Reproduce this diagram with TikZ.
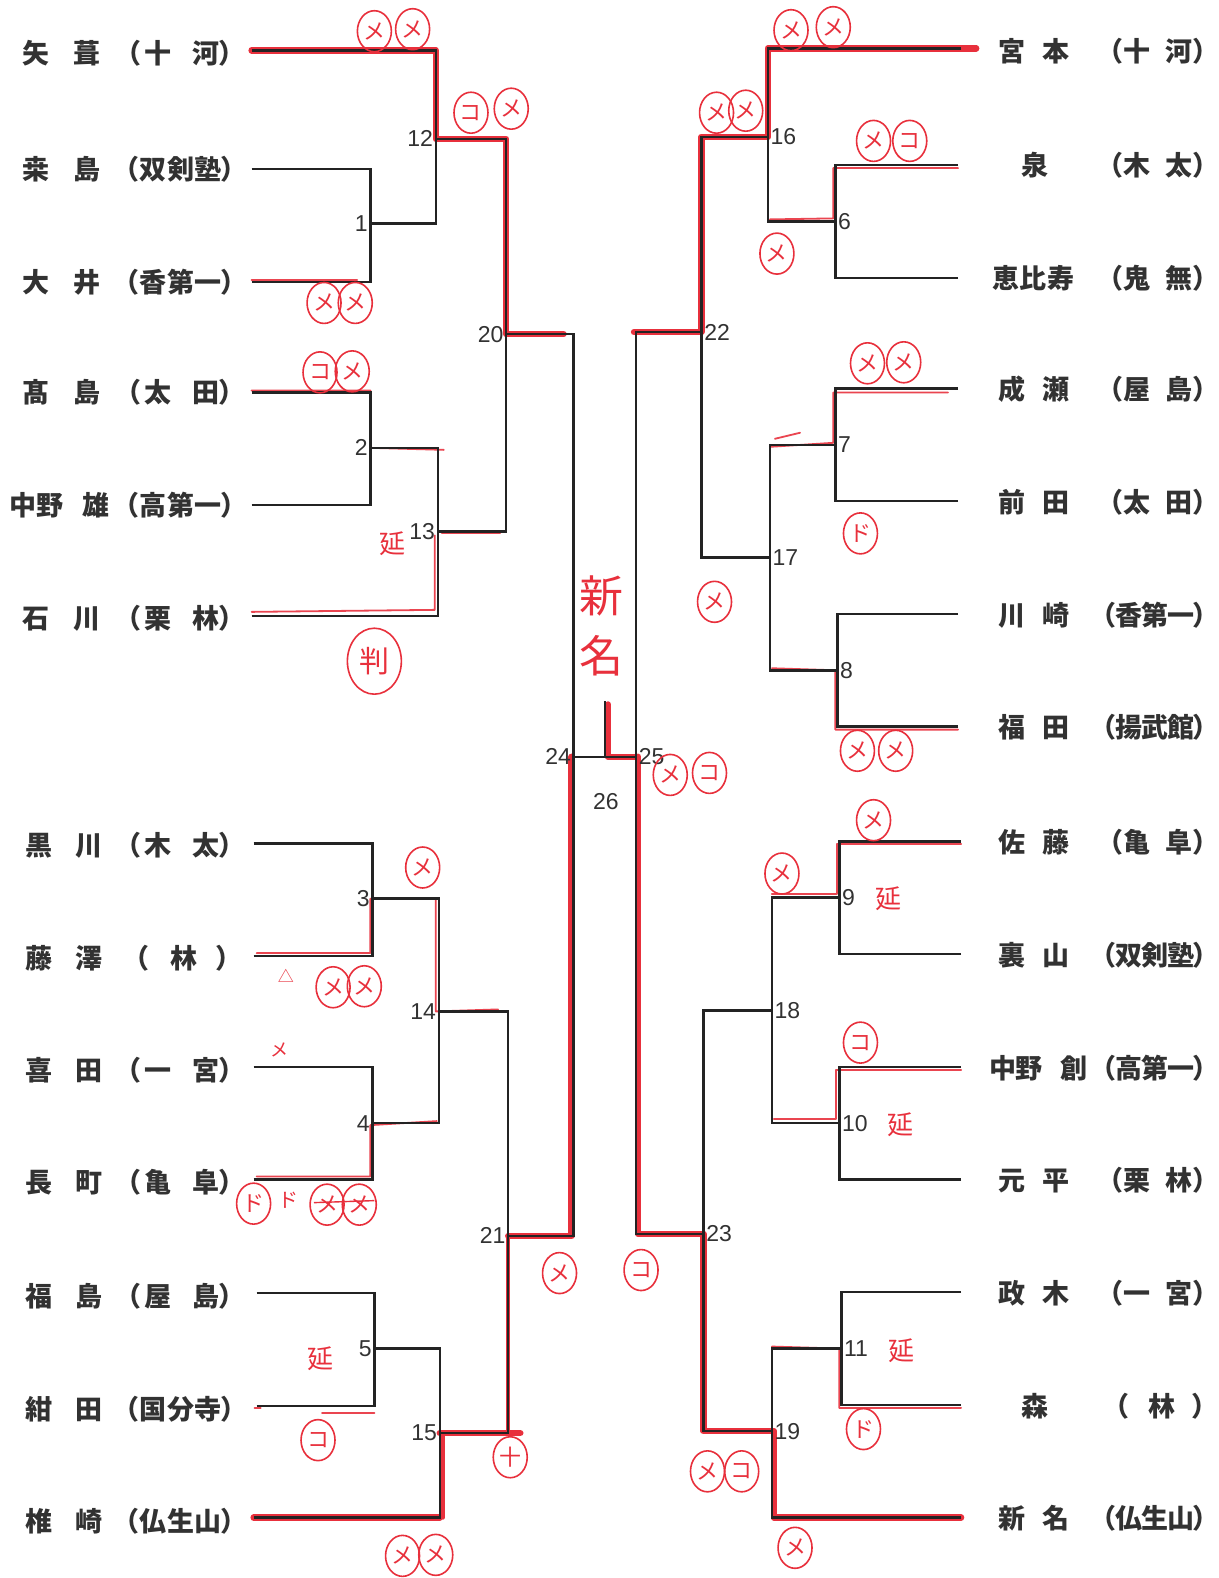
\documentclass[tikz,border=0pt]{standalone}
\usepackage{fontspec}
\usetikzlibrary{shapes.geometric,calc}
\newfontfamily\jp[RawFeature=+palt]{Noto Sans CJK JP}
\newfontfamily\hw{Noto Sans CJK JP}
\newfontfamily\numf{Liberation Sans}
\definecolor{mred}{RGB}{232,48,60}
\definecolor{lk}{RGB}{35,35,35}
\definecolor{txt}{RGB}{50,50,50}
\newdimen\px \px=0.5033pt
\newcommand\gl[2]{\rlap{\hskip#1\px\makebox[0pt][c]{#2}}}
\newcommand\Lnm[2]{\gl{34}{#1}\gl{85}{#2}}
\newcommand\Ltwo[2]{\gl{131}{（}\gl{156}{#1}\gl{203}{#2}\gl{224}{）}}
\newcommand\Lthree[3]{\gl{129}{（}\gl{151}{#1}\gl{178}{#2}\gl{205}{#3}\gl{226}{）}}
\newcommand\Lone[1]{\gl{139}{（}\gl{181}{#1}\gl{221}{）}}
\newcommand\Rnm[2]{\gl{1004}{#1}\gl{1048}{#2}}
\newcommand\Rtwo[2]{\gl{1107}{（}\gl{1128}{#1}\gl{1170}{#2}\gl{1191}{）}}
\newcommand\Rthree[3]{\gl{1100}{（}\gl{1120}{#1}\gl{1146}{#2}\gl{1172}{#3}\gl{1191}{）}}
\newcommand\Rone[1]{\gl{1113}{（}\gl{1153}{#1}\gl{1190}{）}}
\begin{document}
\begin{tikzpicture}[x=0.5033pt,y=-0.5033pt,
  blk/.style={draw=lk, line width=1.25pt, line join=miter},
  rthick/.style={draw=mred, line width=3.2pt, line cap=round, line join=round},
  rmed/.style={draw=mred, line width=2pt, line cap=round, line join=round},
  rthin/.style={draw=mred!90, line width=0.9pt, line cap=round, line join=round},
  lbl/.style={inner sep=0pt, anchor=west, text=txt, font=\jp\bfseries\fontsize{13.5}{14}\selectfont},
  num/.style={inner sep=1.2pt, text=txt, font=\numf\fontsize{11.5}{12}\selectfont},
  circ/.style={ellipse, draw=mred, line width=0.8pt, minimum width=17pt, minimum height=20.5pt, inner sep=0pt, text=mred, font=\hw\fontsize{11}{11}\selectfont},
  hwt/.style={inner sep=0pt, text=mred, font=\hw\fontsize{13}{13}\selectfont}]
\fill[white] (0,0) rectangle (1211,1568);
\useasboundingbox (0,0) rectangle (1211,1568);
% ---------- coordinates ----------
\coordinate (pL1) at (250,50);
\coordinate (pL2) at (250,168);
\coordinate (pL3) at (250,280);
\coordinate (pL4) at (250,390);
\coordinate (pL5) at (250,502);
\coordinate (pL6) at (250,612);
\coordinate (pL7) at (252,838);
\coordinate (pL8) at (252,950);
\coordinate (pL9) at (252,1060);
\coordinate (pL10) at (252,1172);
\coordinate (pL11) at (255,1285);
\coordinate (pL12) at (255,1397);
\coordinate (pL13) at (252,1508);
\coordinate (m1) at (368,222);
\coordinate (m2) at (368,445);
\coordinate (m3) at (370,893);
\coordinate (m4) at (370,1116);
\coordinate (m5) at (372,1340);
\coordinate (m12) at (433,138);
\coordinate (m13) at (435,528);
\coordinate (m14) at (436,1005);
\coordinate (m15) at (437,1424);
\coordinate (m20) at (503,332);
\coordinate (m21) at (505,1228);
\coordinate (m24) at (570,752);
\coordinate (pR1) at (955,48);
\coordinate (pR2) at (952,164);
\coordinate (pR3) at (952,276);
\coordinate (pR4) at (952,386);
\coordinate (pR5) at (952,498);
\coordinate (pR6) at (952,610);
\coordinate (pR7) at (952,722);
\coordinate (pR8) at (955,836);
\coordinate (pR9) at (955,948);
\coordinate (pR10) at (955,1060);
\coordinate (pR11) at (955,1172);
\coordinate (pR12) at (955,1284);
\coordinate (pR13) at (955,1396);
\coordinate (pR14) at (955,1508);
\coordinate (m6) at (830,220);
\coordinate (m7) at (830,442);
\coordinate (m8) at (832,666);
\coordinate (m9) at (834,892);
\coordinate (m10) at (834,1116);
\coordinate (m11) at (836,1340);
\coordinate (m16) at (763,136);
\coordinate (m17) at (765,554);
\coordinate (m18) at (767,1004);
\coordinate (m19) at (767,1422);
\coordinate (m22) at (697,330);
\coordinate (m23) at (699,1226);
\coordinate (m25) at (632,752);
\coordinate (m26) at (601,752);
\coordinate (m26t) at (601,697);
% ---------- red winner paths (under) ----------
\draw[rthick] (pL1) -| (m12) -| (m20) -- ($(m20)+(57,0)$);
\draw[rthick] (pL13) -- (m15 |- pL13);
\draw[rmed] ($(m15 |- pL13)+(3,0)$) -- ($(m15)+(3,0)$);
\draw[rthick] (m15) -- ($(m21 |- m15)+(12,0)$);
\draw[rmed] (m21 |- m15) -- (m21);
\draw[rthick] (m21) -| ($(m24)+(-2,0)$);
\draw[rthick] ($(pR1)+(15,0)$) -| (m16) -| (m22) -- ($(m25 |- m22)+(-2,0)$);
\draw[rthick] (pR14) -| ($(m19)+(2,0)$) -- (m19) -| (m23) -| ($(m25)+(2,0)$);
\draw[rthick] ($(m26t)+(3,3)$) -- ($(m26)+(3,0)$) -- (m25);
\draw[rthin] ($(pL3)+(0,-2)$) -- ++(105,0);
\draw[rthin] ($(pL4)+(0,-2)$) -| ($(m2)+(0,0)$) -- ($(m13 |- m2)+(6,2)$);
\draw[rthin] ($(pL6)+(0,-4)$) -- ($(m13 |- pL6)+(-3,-6)$) -- ($(m13)+(-3,4)$);
\draw[rthin] ($(m13)+(4,2)$) -- ($(m20 |- m13)+(-6,2)$);
\draw[rthin] ($(pL8)+(3,-3)$) -| ($(m3)+(-2,0)$) -- ($(m14 |- m3)+(-3,0)$) -- ($(m14)+(-3,0)$) -- ($(m21 |- m14)+(-10,-2)$);
\draw[rthin] ($(pL10)+(3,-3)$) -| ($(m4)+(-2,2)$) -- ($(m14 |- m4)+(-2,-2)$);
\draw[rthin] ($(pL12)+(-2,2)$) -- ++(6,0);
\draw[rthin] (320,1404) -- (372,1404);
\draw[rthin] ($(pR2)+(0,3)$) -| ($(m6)+(-2,-3)$) -- ($(m16 |- m6)+(2,-2)$);
\draw[rthin] ($(pR4)+(-10,4)$) -| ($(m7)+(-2,-2)$) -- ($(m17 |- m7)+(0,2)$);
\draw[rthin] ($(m17 |- m7)+(5,-6)$) -- ($(m17 |- m7)+(30,-12)$);
\draw[rthin] ($(pR7)+(0,3)$) -| ($(m8)+(-2,0)$) -- ($(m17 |- m8)+(2,-2)$);
\draw[rthin] ($(pR8)+(0,3)$) -| ($(m9)+(-2,-4)$) -- ($(m18 |- m9)+(0,-4)$);
\draw[rthin] ($(pR10)+(0,3)$) -| ($(m10)+(-3,-4)$) -- ($(m18 |- m10)+(2,-4)$);
\draw[rthin] ($(pR13)+(0,3)$) -| ($(m11)+(-2,0)$) -- ($(m19 |- m11)+(0,-2)$);
% ---------- black bracket ----------
\draw[blk] (pL1) -| (m12);
\draw[blk] (pL2) -| (m1);
\draw[blk] (pL3) -| (m1);
\draw[blk] (m1) -| (m12);
\draw[blk] (pL4) -| (m2);
\draw[blk] (pL5) -| (m2);
\draw[blk] (m2) -| (m13);
\draw[blk] (pL6) -| (m13);
\draw[blk] (m12) -| (m20);
\draw[blk] (m13) -| (m20);
\draw[blk] (m20) -| (m24);
\draw[blk] (pL7) -| (m3);
\draw[blk] (pL8) -| (m3);
\draw[blk] (pL9) -| (m4);
\draw[blk] (pL10) -| (m4);
\draw[blk] (m3) -| (m14);
\draw[blk] (m4) -| (m14);
\draw[blk] (pL11) -| (m5);
\draw[blk] (pL12) -| (m5);
\draw[blk] (m5) -| (m15);
\draw[blk] (pL13) -| (m15);
\draw[blk] (m14) -| (m21);
\draw[blk] (m15) -| (m21);
\draw[blk] (m21) -| (m24);
\draw[blk] (m24) -- (m25);
\draw[blk] (m26) -- (m26t);
\draw[blk] (pR1) -| (m16);
\draw[blk] (pR2) -| (m6);
\draw[blk] (pR3) -| (m6);
\draw[blk] (m6) -| (m16);
\draw[blk] (m16) -| (m22);
\draw[blk] (pR4) -| (m7);
\draw[blk] (pR5) -| (m7);
\draw[blk] (pR6) -| (m8);
\draw[blk] (pR7) -| (m8);
\draw[blk] (m7) -| (m17);
\draw[blk] (m8) -| (m17);
\draw[blk] (m17) -| (m22);
\draw[blk] (m22) -| (m25);
\draw[blk] (pR8) -| (m9);
\draw[blk] (pR9) -| (m9);
\draw[blk] (pR10) -| (m10);
\draw[blk] (pR11) -| (m10);
\draw[blk] (m9) -| (m18);
\draw[blk] (m10) -| (m18);
\draw[blk] (pR12) -| (m11);
\draw[blk] (pR13) -| (m11);
\draw[blk] (m11) -| (m19);
\draw[blk] (pR14) -| (m19);
\draw[blk] (m18) -| (m23);
\draw[blk] (m19) -| (m23);
\draw[blk] (m23) -| (m25);
% ---------- match numbers ----------
\foreach \m in {1,2,3,4,5,12,13,14,15,20,21,24}{\node[num,anchor=east] (n\m) at (m\m) {\m};}
\foreach \m in {6,7,8,9,10,11,16,17,18,19,22,23,25}{\node[num,anchor=west] (n\m) at (m\m) {\m};}
\node[num] (n26) at (602,796) {26};
% ---------- names left ----------
\node[lbl] (L1) at (0,53) {\Lnm{矢}{葺}\Ltwo{十}{河}};
\node[lbl] (L2) at (0,168) {\Lnm{桒}{島}\Lthree{双}{剣}{塾}};
\node[lbl] (L3) at (0,280) {\Lnm{大}{井}\Lthree{香}{第}{一}};
\node[lbl] (L4) at (0,390) {\Lnm{髙}{島}\Ltwo{太}{田}};
\node[lbl] (L5) at (0,502) {\gl{21}{中}\gl{48}{野}\gl{94}{雄}\Lthree{高}{第}{一}};
\node[lbl] (L6) at (0,614) {\Lnm{石}{川}\Ltwo{栗}{林}};
\node[lbl] (L7) at (0,840) {\gl{37}{黒}\gl{87}{川}\Ltwo{木}{太}};
\node[lbl] (L8) at (0,952) {\gl{37}{藤}\gl{87}{澤}\Lone{林}};
\node[lbl] (L9) at (0,1063) {\gl{37}{喜}\gl{87}{田}\Ltwo{一}{宮}};
\node[lbl] (L10) at (0,1175) {\gl{37}{長}\gl{87}{町}\Ltwo{亀}{阜}};
\node[lbl] (L11) at (0,1288) {\gl{37}{福}\gl{87}{島}\Ltwo{屋}{島}};
\node[lbl] (L12) at (0,1400) {\gl{37}{紺}\gl{87}{田}\Lthree{国}{分}{寺}};
\node[lbl] (L13) at (0,1512) {\gl{37}{椎}\gl{87}{崎}\Lthree{仏}{生}{山}};
% ---------- names right ----------
\node[lbl] (R1) at (0,51) {\Rnm{宮}{本}\Rtwo{十}{河}};
\node[lbl] (R2) at (0,164) {\gl{1027}{泉}\Rtwo{木}{太}};
\node[lbl] (R3) at (0,276) {\gl{998}{恵}\gl{1025}{比}\gl{1053}{寿}\Rtwo{鬼}{無}};
\node[lbl] (R4) at (0,387) {\Rnm{成}{瀬}\Rtwo{屋}{島}};
\node[lbl] (R5) at (0,499) {\Rnm{前}{田}\Rtwo{太}{田}};
\node[lbl] (R6) at (0,611) {\Rnm{川}{崎}\Rthree{香}{第}{一}};
\node[lbl] (R7) at (0,723) {\Rnm{福}{田}\Rthree{揚}{武}{館}};
\node[lbl] (R8) at (0,837) {\Rnm{佐}{藤}\Rtwo{亀}{阜}};
\node[lbl] (R9) at (0,949) {\Rnm{裏}{山}\Rthree{双}{剣}{塾}};
\node[lbl] (R10) at (0,1061) {\gl{995}{中}\gl{1021}{野}\gl{1066}{創}\Rthree{高}{第}{一}};
\node[lbl] (R11) at (0,1173) {\Rnm{元}{平}\Rtwo{栗}{林}};
\node[lbl] (R12) at (0,1285) {\Rnm{政}{木}\Rtwo{一}{宮}};
\node[lbl] (R13) at (0,1397) {\gl{1027}{森}\Rone{林}};
\node[lbl] (R14) at (0,1509) {\Rnm{新}{名}\Rthree{仏}{生}{山}};
% ---------- handwritten red marks ----------
\node[circ] (a1) at (372,31) {メ};
\node[circ] (a2) at (410,29) {メ};
\node[circ] (a3) at (468,112) {コ};
\node[circ] (a4) at (508,108) {メ};
\node[circ] (a5) at (322,301) {メ};
\node[circ] (a6) at (353,301) {メ};
\node[circ] (a7) at (318,370) {コ};
\node[circ] (a8) at (350,369) {メ};
\node[hwt] (e1) at (390,540) {延};
\node[circ, minimum width=27pt, minimum height=33pt, font=\hw\fontsize{15}{15}\selectfont] (a9) at (372,657) {判};
\node[circ] (a10) at (420,862) {メ};
\node[hwt, font=\hw\fontsize{8}{8}\selectfont] (t1) at (284,970) {△};
\node[circ] (a11) at (331,981) {メ};
\node[circ] (a12) at (362,980) {メ};
\node[hwt, font=\hw\fontsize{9}{9}\selectfont] (t2) at (278,1043) {メ};
\node[circ] (a13) at (252,1196) {ド};
\node[hwt, font=\hw\fontsize{10}{10}\selectfont] (t3) at (287,1193) {ド};
\node[circ] (a14) at (325,1197) {メ};
\node[circ] (a15) at (357,1197) {メ};
\draw[mred, line width=0.7pt] (312,1195) -- (372,1193);
\node[circ] (a16) at (556,1265) {メ};
\node[circ] (a17) at (637,1262) {コ};
\node[hwt] (e2) at (318,1350) {延};
\node[circ] (a18) at (316,1431) {コ};
\node[circ] (a19) at (507,1448) {十};
\node[circ] (a20) at (400,1546) {メ};
\node[circ] (a21) at (433,1545) {メ};
\node[circ] (b1) at (786,30) {メ};
\node[circ] (b2) at (828,27) {メ};
\node[circ] (b3) at (712,112) {メ};
\node[circ] (b4) at (741,110) {メ};
\node[circ] (b5) at (868,140) {メ};
\node[circ] (b6) at (904,140) {コ};
\node[circ] (b7) at (772,252) {メ};
\node[circ] (b8) at (862,361) {メ};
\node[circ] (b9) at (898,360) {メ};
\node[circ] (b10) at (855,530) {ド};
\node[circ] (b11) at (710,598) {メ};
\node[circ] (b12) at (852,746) {メ};
\node[circ] (b13) at (890,746) {メ};
\node[circ] (b14) at (666,770) {メ};
\node[circ] (b15) at (705,768) {コ};
\node[circ] (b16) at (868,815) {メ};
\node[circ] (b17) at (777,868) {メ};
\node[hwt] (e3) at (883,893) {延};
\node[circ] (b18) at (855,1036) {コ};
\node[hwt] (e4) at (895,1118) {延};
\node[hwt] (e5) at (896,1342) {延};
\node[circ] (b19) at (858,1420) {ド};
\node[circ] (b20) at (703,1462) {メ};
\node[circ] (b21) at (737,1462) {コ};
\node[circ] (b22) at (790,1538) {メ};
\node[hwt, font=\hw\fontsize{22}{22}\selectfont] (s1) at (598,592) {新};
\node[hwt, font=\hw\fontsize{22}{22}\selectfont] (s2) at (598,652) {名};
\end{tikzpicture}
\end{document}
